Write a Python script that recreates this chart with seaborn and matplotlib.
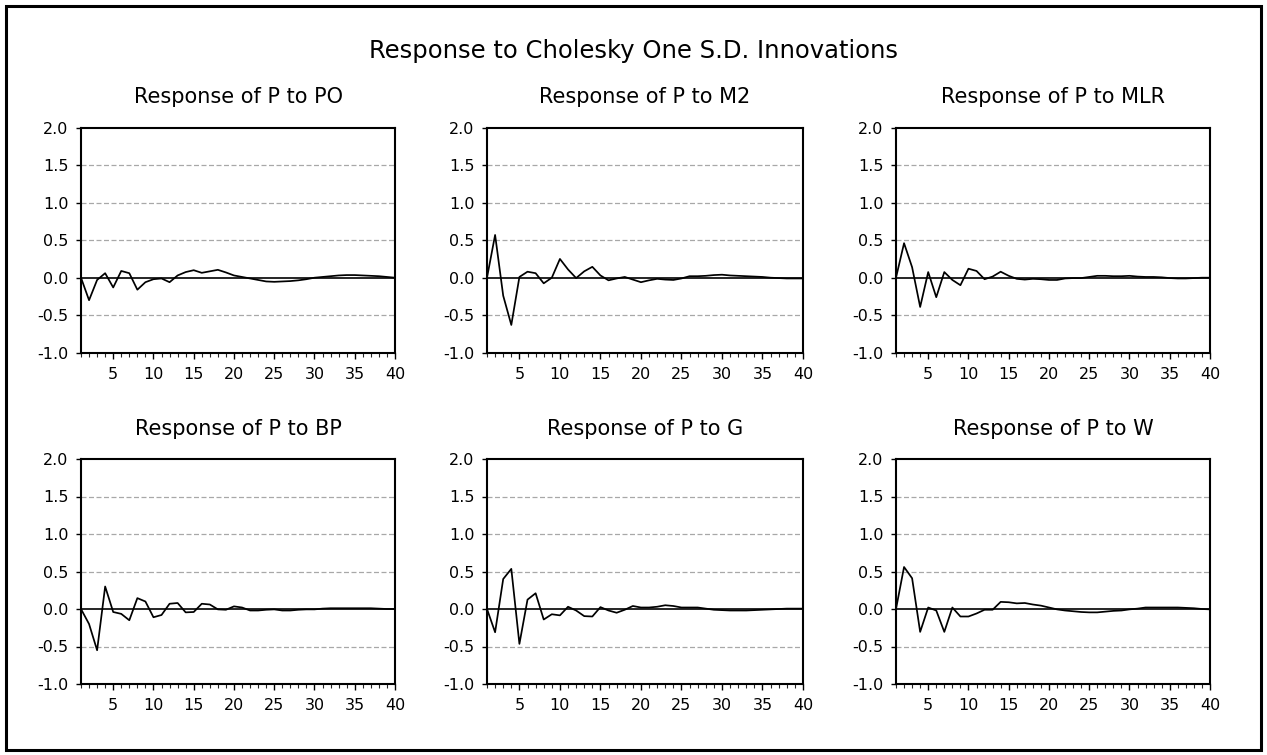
import matplotlib
matplotlib.use("Agg")
import matplotlib.pyplot as plt
import seaborn as sns
import pandas as pd
from matplotlib.patches import Rectangle
from matplotlib.ticker import MultipleLocator, FormatStrFormatter

periods = list(range(1, 41))

resp_po = [0.0, -0.30, -0.03, 0.06, -0.13, 0.09, 0.06, -0.16, -0.06, -0.02,
           -0.01, -0.06, 0.03, 0.075, 0.10, 0.065, 0.085, 0.105, 0.07, 0.03,
           0.01, -0.01, -0.03, -0.05, -0.055, -0.05, -0.045, -0.035, -0.02, 0.0,
           0.01, 0.02, 0.03, 0.035, 0.035, 0.03, 0.025, 0.02, 0.01, 0.0]
resp_m2 = [0.0, 0.57, -0.24, -0.63, 0.01, 0.08, 0.06, -0.075, 0.0, 0.25,
           0.11, -0.005, 0.085, 0.145, 0.03, -0.035, -0.01, 0.01, -0.025, -0.06,
           -0.035, -0.015, -0.025, -0.03, -0.01, 0.02, 0.02, 0.025, 0.035, 0.04,
           0.03, 0.025, 0.02, 0.015, 0.01, 0.0, -0.005, -0.01, -0.01, -0.01]
resp_mlr = [0.0, 0.46, 0.14, -0.39, 0.075, -0.26, 0.075, -0.03, -0.10, 0.12,
            0.09, -0.02, 0.015, 0.08, 0.025, -0.015, -0.025, -0.015, -0.02, -0.03,
            -0.03, -0.01, -0.005, -0.005, 0.01, 0.025, 0.025, 0.02, 0.02, 0.025,
            0.015, 0.01, 0.01, 0.005, -0.005, -0.01, -0.01, -0.005, 0.0, 0.0]
resp_bp = [0.0, -0.20, -0.55, 0.30, -0.04, -0.065, -0.15, 0.145, 0.10, -0.11,
           -0.08, 0.07, 0.08, -0.045, -0.04, 0.07, 0.06, -0.005, -0.01, 0.035,
           0.02, -0.02, -0.02, -0.01, -0.005, -0.02, -0.02, -0.01, -0.005, -0.005,
           0.005, 0.01, 0.01, 0.01, 0.01, 0.01, 0.01, 0.005, 0.0, 0.0]
resp_g = [0.0, -0.31, 0.40, 0.535, -0.465, 0.125, 0.21, -0.14, -0.07, -0.085,
          0.03, -0.02, -0.095, -0.10, 0.025, -0.02, -0.05, -0.01, 0.04, 0.02,
          0.02, 0.03, 0.05, 0.04, 0.02, 0.02, 0.02, 0.005, -0.01, -0.015,
          -0.02, -0.02, -0.02, -0.015, -0.01, -0.005, 0.0, 0.005, 0.005, 0.005]
resp_w = [0.0, 0.56, 0.41, -0.305, 0.02, -0.02, -0.305, 0.02, -0.10, -0.10,
          -0.06, -0.01, -0.01, 0.095, 0.09, 0.075, 0.08, 0.06, 0.045, 0.02,
          -0.005, -0.02, -0.03, -0.04, -0.045, -0.045, -0.035, -0.025, -0.02, -0.005,
          0.005, 0.02, 0.02, 0.02, 0.02, 0.02, 0.015, 0.01, 0.0, -0.005]

panel_titles = ["Response of P to PO", "Response of P to M2", "Response of P to MLR",
                "Response of P to BP", "Response of P to G", "Response of P to W"]
panel_series = [resp_po, resp_m2, resp_mlr, resp_bp, resp_g, resp_w]
main_title = "Response to Cholesky One S.D. Innovations"
y_ticks = [-1.0, -0.5, 0.0, 0.5, 1.0, 1.5, 2.0]
grid_levels = [-0.5, 0.5, 1.0, 1.5]

sns.set_theme(style="white")
plt.rcParams["font.family"] = ["DejaVu Sans"]
plt.rcParams["axes.unicode_minus"] = False

W, H = 1267, 755
fig = plt.figure(figsize=(W / 100, H / 100), dpi=100)
fig.patch.set_facecolor("white")

lefts = [81, 487, 896]
widths = [314, 316, 314]
tops = [127.7, 459]
ax_h = 225

for i, (title, vals) in enumerate(zip(panel_titles, panel_series)):
    r, c = divmod(i, 3)
    ax = fig.add_axes([lefts[c] / W, 1 - (tops[r] + ax_h) / H, widths[c] / W, ax_h / H])
    df = pd.DataFrame({"period": periods, "response": vals})
    for g in grid_levels:
        ax.axhline(g, color="#a8a8a8", lw=0.9, ls=(0, (4, 2)), zorder=1)
    ax.axhline(0.0, color="black", lw=1.2, zorder=2)
    sns.lineplot(data=df, x="period", y="response", ax=ax, color="black",
                 linewidth=1.25, zorder=3)
    ax.set_xlim(1, 40)
    ax.set_ylim(-1.0, 2.0)
    ax.set_yticks(y_ticks)
    ax.yaxis.set_major_formatter(FormatStrFormatter("%.1f"))
    ax.xaxis.set_major_locator(MultipleLocator(5))
    ax.xaxis.set_minor_locator(MultipleLocator(1))
    ax.set_xlabel("")
    ax.set_ylabel("")
    for s in ax.spines.values():
        s.set_visible(True)
        s.set_color("black")
        s.set_linewidth(1.5)
    ax.tick_params(axis="y", which="major", direction="out", length=3.5, width=1,
                   pad=5.5, labelsize=11.5, colors="black", left=True)
    ax.tick_params(axis="x", which="major", direction="out", length=4, width=1,
                   pad=6, labelsize=11.5, colors="black", bottom=True)
    ax.tick_params(axis="x", which="minor", direction="out", length=3, width=0.8,
                   bottom=True)
    ax.set_title(title, fontsize=15, pad=17.5, color="black")

fig.text(0.5, 1 - 58 / H, main_title, ha="center", va="baseline", fontsize=17.5,
         color="black")

fig.patches.append(Rectangle((6 / W, 5 / H), 1255 / W, 744 / H, transform=fig.transFigure,
                             fill=False, edgecolor="black", linewidth=2.2))

fig.savefig("out.png", dpi=100)
